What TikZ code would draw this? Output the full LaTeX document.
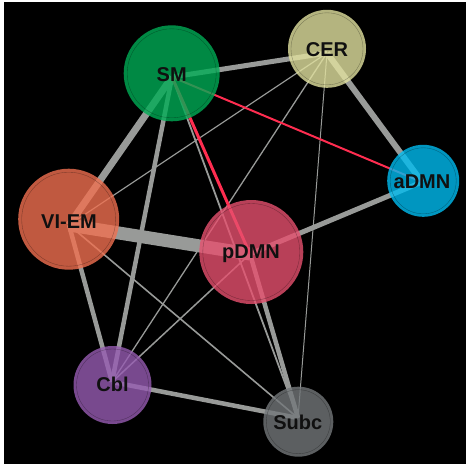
\documentclass[tikz,border=0pt]{standalone}
\usepackage{fontspec}
\setmainfont{Liberation Sans}
\definecolor{smc}{RGB}{0,172,85}
\definecolor{cerc}{RGB}{226,226,159}
\definecolor{admnc}{RGB}{0,188,240}
\definecolor{viemc}{RGB}{240,112,80}
\definecolor{pdmnc}{RGB}{230,80,110}
\definecolor{cblc}{RGB}{150,92,178}
\definecolor{subcc}{RGB}{115,119,122}
\definecolor{edgegray}{RGB}{152,154,152}
\definecolor{edgered}{RGB}{255,45,80}
\definecolor{labelc}{RGB}{16,16,16}
\tikzset{
  netnode/.style={circle, inner sep=0pt, draw=none, fill opacity=0.8},
  ringline/.style={draw=black, draw opacity=0.35, line width=0.35pt},
  posedge/.style={draw=edgegray},
  negedge/.style={draw=edgered},
  lab/.style={text=labelc, font=\bfseries\fontsize{20}{20}\selectfont, inner sep=0pt, anchor=base}
}
\begin{document}
\begin{tikzpicture}[x=1pt,y=-1pt]
\useasboundingbox (0,0) rectangle (466,464);
\fill[white] (0,0) rectangle (466,464);
\fill[black] (4,2) rectangle (466,464);
% edge anchors
\coordinate (SMa) at (172,77);
\coordinate (CERa) at (327,53);
\coordinate (aDMNa) at (422,182);
\coordinate (VIa) at (69,225);
\coordinate (pDMNa) at (250,254);
\coordinate (Cbla) at (112,382);
\coordinate (Subca) at (298,418);
% edges
\draw[posedge, line width=13pt] (VIa) -- (pDMNa);
\draw[posedge, line width=7pt] (SMa) -- (VIa);
\draw[posedge, line width=5pt] (SMa) -- (CERa);
\draw[posedge, line width=6pt] (CERa) -- (aDMNa);
\draw[posedge, line width=5pt] (aDMNa) -- (pDMNa);
\draw[posedge, line width=4.5pt] (SMa) -- (Cbla);
\draw[posedge, line width=4.5pt] (VIa) -- (Cbla);
\draw[posedge, line width=4.5pt] (Cbla) -- (Subca);
\draw[posedge, line width=4.5pt] (pDMNa) -- (Subca);
\draw[posedge, line width=1.8pt] (SMa) -- (Subca);
\draw[posedge, line width=1.6pt] (VIa) -- (Subca);
\draw[posedge, line width=1.5pt] (pDMNa) -- (Cbla);
\draw[posedge, line width=1.2pt] (CERa) -- (VIa);
\draw[posedge, line width=1.3pt] (CERa) -- (Cbla);
\draw[posedge, line width=1pt] (CERa) -- (Subca);
\draw[negedge, line width=3pt] (SMa) -- (pDMNa);
\draw[negedge, line width=2pt] (SMa) -- (aDMNa);
% nodes
\node[netnode, fill=smc, minimum size=96pt] (SM) at (171.7,73.3) {};
\node[netnode, fill=cerc, minimum size=78pt] (CER) at (327,48.8) {};
\node[netnode, fill=admnc, minimum size=72pt] (aDMN) at (423.2,180.8) {};
\node[netnode, fill=viemc, minimum size=101pt] (VIEM) at (68.7,219.2) {};
\node[netnode, fill=pdmnc, minimum size=104pt] (pDMN) at (251.3,252) {};
\node[netnode, fill=cblc, minimum size=78pt] (Cbl) at (112.5,385) {};
\node[netnode, fill=subcc, minimum size=70pt] (Subc) at (298.3,421.7) {};
% inner rings
\draw[ringline] (SM.center) circle (44.5pt);
\draw[ringline] (CER.center) circle (36pt);
\draw[ringline] (aDMN.center) circle (33pt);
\draw[ringline] (VIEM.center) circle (47pt);
\draw[ringline] (pDMN.center) circle (48.5pt);
\draw[ringline] (Cbl.center) circle (36pt);
\draw[ringline] (Subc.center) circle (32pt);
% labels
\node[lab] (SMl) at (171.7,81) {SM};
\node[lab] (CERl) at (327,56) {CER};
\node[lab] (aDMNl) at (422,188.3) {aDMN};
\node[lab] (VIEMl) at (69,228.3) {VI-EM};
\node[lab] (pDMNl) at (251,258.3) {pDMN};
\node[lab] (Cbll) at (112.5,391.7) {Cbl};
\node[lab] (Subcl) at (297.8,429.3) {Subc};
\end{tikzpicture}
\end{document}
